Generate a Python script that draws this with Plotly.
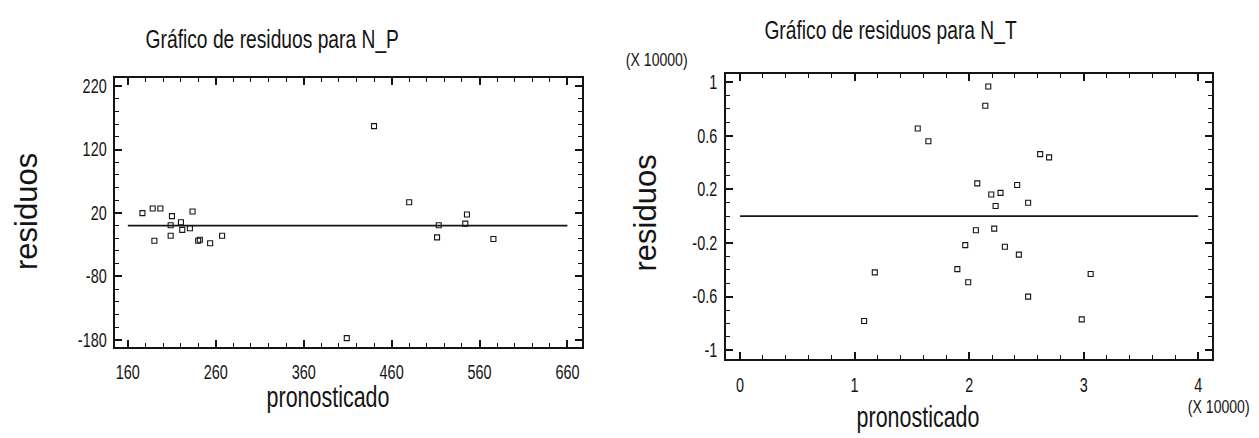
import plotly.graph_objects as go

# Residuals for N_P (pronosticado vs residuos)
np_pred = [176.6, 188.3, 197.0, 190.2, 210.2, 208.7, 208.7, 220.4, 221.9, 230.6, 233.6,
           240.0, 241.9, 253.6, 267.2, 440.0, 409.0, 480.0, 513.6, 511.7, 543.8, 545.7, 575.8]
np_resid = [19.7, 26.9, 26.9, -23.8, 15.0, 0.5, -16.0, 5.2, -6.7, -4.1, 22.3,
            -23.8, -22.2, -27.9, -16.0, 156.9, -177.5, 36.8, 0.5, -18.6, 3.1, 17.6, -21.2]

# Residuals for N_T, both axes in units of 10000
nt_pred = [1.551, 1.644, 2.167, 2.141, 2.620, 2.698, 2.071, 2.193, 2.274, 2.419, 2.231, 2.515,
           2.059, 2.219, 1.966, 2.312, 2.434, 1.897, 1.992, 2.515, 1.176, 1.083, 2.983, 3.061]
nt_resid = [0.654, 0.559, 0.968, 0.824, 0.463, 0.439, 0.245, 0.162, 0.174, 0.233, 0.076, 0.100,
            -0.105, -0.093, -0.216, -0.228, -0.287, -0.395, -0.493, -0.600, -0.419, -0.782, -0.770, -0.431]

# Tick values and labels
np_xticks = [160, 260, 360, 460, 560, 660]
np_xlabels = ["160", "260", "360", "460", "560", "660"]
np_yticks = [-180, -80, 20, 120, 220]
np_ylabels = ["-180", "-80", "20", "120", "220"]
nt_xticks = [0, 1, 2, 3, 4]
nt_xlabels = ["0", "1", "2", "3", "4"]
nt_yticks = [-1, -0.6, -0.2, 0.2, 0.6, 1]
nt_ylabels = ["-1", "-0.6", "-0.2", "0.2", "0.6", "1"]

W, H = 1259, 438
INK = "#141414"
FONT = "Liberation Sans, Arial, sans-serif"


def px(x):
    return x / W


def py(y):
    return 1 - y / H


fig = go.Figure()

marker = dict(symbol="square-open", size=5, color=INK, line=dict(width=1.1, color=INK))

fig.add_trace(go.Scatter(x=np_pred, y=np_resid, mode="markers", marker=marker,
                         xaxis="x", yaxis="y", showlegend=False, hoverinfo="x+y"))
fig.add_trace(go.Scatter(x=[np_xticks[0], np_xticks[-1]], y=[0, 0], mode="lines",
                         line=dict(color=INK, width=1.7), xaxis="x", yaxis="y",
                         showlegend=False, hoverinfo="skip"))
fig.add_trace(go.Scatter(x=nt_pred, y=nt_resid, mode="markers", marker=marker,
                         xaxis="x2", yaxis="y2", showlegend=False, hoverinfo="x+y"))
fig.add_trace(go.Scatter(x=[nt_xticks[0], nt_xticks[-1]], y=[0, 0], mode="lines",
                         line=dict(color=INK, width=1.7), xaxis="x2", yaxis="y2",
                         showlegend=False, hoverinfo="skip"))


def axis(domain, rng, vals, labels, minor_start, minor_step, standoff, anchor):
    return dict(
        domain=domain, range=rng, anchor=anchor,
        tickmode="array", tickvals=vals, ticktext=labels,
        ticks="inside", ticklen=7, tickwidth=1.5, tickcolor=INK,
        minor=dict(tickmode="linear", tick0=minor_start, dtick=minor_step,
                   ticks="inside", ticklen=4, tickwidth=1.2, tickcolor=INK, showgrid=False),
        showline=True, linecolor=INK, linewidth=2, mirror="ticks",
        showgrid=False, zeroline=False,
        tickfont=dict(family=FONT, size=19.5, color=INK),
        ticklabelstandoff=standoff,
    )


fig.update_layout(
    width=W, height=H,
    margin=dict(l=0, r=0, t=0, b=0),
    paper_bgcolor="white", plot_bgcolor="white",
    xaxis=axis([px(112), px(581)], [144.9, 676.2], np_xticks, np_xlabels, 160, 20, 6, "y"),
    yaxis=axis([py(349), py(76)], [-191.8, 232.9], np_yticks, np_ylabels, -180, 20, 2, "x"),
    xaxis2=axis([px(726), px(1214)], [-0.122, 4.122], nt_xticks, nt_xlabels, 0, 0.2, 8, "y2"),
    yaxis2=axis([py(361), py(72)], [-1.066, 1.061], nt_yticks, nt_ylabels, -1, 0.1, 3, "x2"),
)

texts = [
    ("Gráfico de residuos para N_P", 271, 36, 26, 0),
    ("Gráfico de residuos para N_T", 891, 27, 26, 0),
    ("pronosticado", 326, 399, 29, 0),
    ("pronosticado", 919, 420, 29, 0),
    ("residuos", 23, 211, 31, -90),
    ("residuos", 645, 213, 31, -90),
    ("(X 10000)", 656, 57, 19, 0),
    ("(X 10000)", 1220, 409, 19, 0),
]
for text, x, y, size, angle in texts:
    fig.add_annotation(text=text, x=px(x), y=py(y), xref="paper", yref="paper",
                       xanchor="center", yanchor="middle", showarrow=False,
                       textangle=angle, font=dict(family=FONT, size=size, color=INK))

# Horizontal text is set in a condensed face: narrow every unrotated label
# around its anchor point once plotly.js has drawn it.
condense_js = """
(function () {
  var gd = document.getElementById('{plot_id}');
  var S = 0.74;
  function angleOf(el) {
    var a = 0;
    for (var n = el; n && n !== gd; n = n.parentNode) {
      var tr = n.getAttribute && n.getAttribute('transform');
      if (tr) {
        var m = /rotate\\(\\s*(-?[\\d.]+)/.exec(tr);
        if (m) { a += parseFloat(m[1]); }
      }
    }
    return a;
  }
  function condense() {
    var nodes = gd.querySelectorAll(
      'g.xtick text, g.x2tick text, g.ytick text, g.y2tick text, text.annotation-text');
    nodes.forEach(function (t) {
      var tr = t.getAttribute('transform') || '';
      if (tr.indexOf('scale(' + S + ',1)') >= 0) { return; }
      if (Math.abs(angleOf(t)) > 0.1) { return; }
      var b = t.getBBox();
      var anchor = t.getAttribute('text-anchor');
      var cx = anchor === 'end' ? b.x + b.width :
               (anchor === 'start' ? b.x : b.x + b.width / 2);
      t.setAttribute('transform', tr + ' translate(' + cx + ',0) scale(' + S +
                     ',1) translate(' + (-cx) + ',0)');
    });
  }
  condense();
  setTimeout(condense, 30);
  if (gd.on) { gd.on('plotly_afterplot', condense); }
})();
"""

fig.write_html("out.html", post_script=condense_js)
